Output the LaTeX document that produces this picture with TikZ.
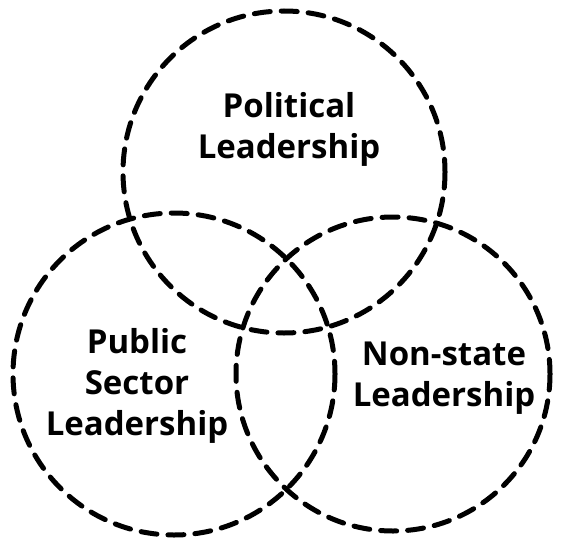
\documentclass[tikz,border=0pt]{standalone}
\usepackage{fontspec}
\setmainfont{Open Sans}
\begin{document}
\begin{tikzpicture}[x=1pt,y=-1pt,
  ring/.style={draw=black, line width=5pt, line cap=round, dash pattern=on 16pt off 11pt},
  lbl/.style={align=center, font=\bfseries\fontsize{33}{41}\selectfont, inner sep=0pt}]
\useasboundingbox (0,0) rectangle (561,540);
\draw[ring] (284,172) circle[radius=161] node (top) {};
\draw[ring] (174,374) circle[radius=161] node (left) {};
\draw[ring] (393,374) circle[radius=157] node (right) {};
\node[lbl] (tl) at (289,129) {Political\\Leadership};
\node[lbl] (ll) at (137,386) {Public\\Sector\\Leadership};
\node[lbl] (rl) at (444,378) {Non-state\\Leadership};
\end{tikzpicture}
\end{document}
